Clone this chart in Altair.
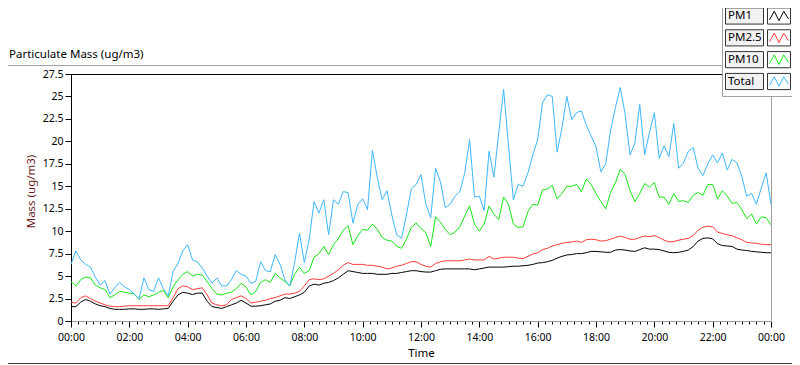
import altair as alt
import pandas as pd

# ---------------- data (10-minute samples) ----------------
step_minutes = 10
n_points = 145
hours = [i * step_minutes / 60 for i in range(n_points)]

series_names = ["PM1", "PM2.5", "PM10", "Total"]
series_colors = ["#000000", "#FF3B3B", "#17E617", "#3DB7FB"]

pm1 = [1.6, 1.6, 2.1, 2.4, 2.2, 1.9, 1.7, 1.6, 1.4, 1.3, 1.3, 1.3, 1.35, 1.35, 1.3, 1.3, 1.35, 1.35, 1.3, 1.35, 1.4, 2.2, 2.9, 3.2, 3.1,
       2.95, 3.1, 3.1, 2.2, 1.6, 1.5, 1.4, 1.6, 1.8, 2.0, 2.3, 2.0, 1.65, 1.65, 1.7, 1.8, 1.9, 2.2, 2.3, 2.6, 2.5, 2.7, 2.9, 3.2,
       3.9, 4.1, 4.0, 4.2, 4.3, 4.5, 4.8, 5.2, 5.6, 5.5, 5.4, 5.3, 5.3, 5.3, 5.2, 5.2, 5.2, 5.3, 5.3, 5.4, 5.5, 5.6, 5.6, 5.5,
       5.45, 5.45, 5.6, 5.75, 5.8, 5.8, 5.8, 5.8, 5.8, 5.8, 5.7, 5.8, 5.9, 6.0, 6.0, 6.0, 6.0, 6.05, 6.1, 6.1, 6.15, 6.2, 6.3, 6.45,
       6.5, 6.6, 6.75, 7.0, 7.2, 7.35, 7.4, 7.5, 7.5, 7.6, 7.75, 7.75, 7.7, 7.65, 7.65, 7.9, 7.95, 7.9, 7.8, 7.75, 7.95, 8.15, 8.0, 8.0,
       7.95, 7.8, 7.65, 7.6, 7.65, 7.75, 7.9, 8.3, 8.9, 9.2, 9.25, 9.15, 8.6, 8.4, 8.35, 8.3, 8.0, 7.9, 7.85, 7.75, 7.7, 7.65, 7.6, 7.6]

pm25 = [2.1, 2.0, 2.6, 2.8, 2.5, 2.2, 2.0, 1.8, 1.65, 1.6, 1.6, 1.65, 1.7, 1.7, 1.7, 1.7, 1.7, 1.7, 1.7, 1.7, 1.7, 2.6, 3.6, 3.9, 3.8,
        3.5, 3.6, 3.7, 2.9, 2.0, 1.8, 1.7, 1.8, 2.4, 2.6, 2.8, 2.5, 2.0, 2.1, 2.2, 2.3, 2.5, 2.6, 2.8, 3.0, 3.0, 3.1, 3.3, 3.9,
        4.6, 4.7, 4.6, 4.7, 5.0, 5.3, 5.7, 6.2, 6.5, 6.3, 6.3, 6.3, 6.2, 6.2, 6.1, 6.0, 5.8, 5.9, 6.1, 6.2, 6.4, 6.6, 6.6, 6.3,
        6.1, 6.0, 6.4, 6.6, 6.7, 6.7, 6.7, 6.7, 6.8, 6.9, 6.8, 6.8, 6.8, 7.2, 6.9, 7.0, 7.1, 7.1, 7.1, 7.0, 6.95, 7.2, 7.45, 7.6,
        7.95, 8.1, 8.35, 8.5, 8.65, 8.75, 8.8, 8.9, 8.75, 9.05, 9.1, 9.05, 8.9, 8.95, 9.1, 9.3, 9.45, 9.3, 9.1, 9.1, 9.3, 9.45, 9.4, 9.5,
        9.3, 9.0, 8.8, 8.85, 9.0, 9.1, 9.2, 9.5, 10.1, 10.45, 10.55, 10.5, 9.9, 9.75, 9.6, 9.5, 9.25, 9.05, 8.75, 8.7, 8.65, 8.55, 8.5, 8.5]

pm10 = [4.4, 3.9, 4.6, 4.9, 4.8, 4.0, 3.7, 3.5, 2.6, 2.9, 3.3, 3.2, 3.1, 3.0, 2.4, 2.9, 2.7, 2.9, 3.2, 3.4, 2.6, 3.8, 4.6, 5.2, 5.5,
        5.0, 5.2, 5.1, 4.4, 3.6, 3.0, 2.9, 3.1, 3.2, 3.6, 4.2, 3.8, 2.9, 3.3, 4.3, 4.6, 4.3, 5.3, 4.8, 4.4, 3.9, 5.2, 6.0, 5.3,
        5.6, 7.1, 7.5, 8.3, 7.4, 8.5, 9.2, 10.1, 10.6, 8.5, 9.5, 10.2, 10.1, 10.8, 10.2, 9.3, 9.0, 8.9, 8.3, 8.1, 9.1, 10.4, 10.9, 10.3,
        9.8, 8.3, 11.6, 11.0, 10.2, 9.6, 9.9, 10.5, 11.7, 12.8, 10.8, 10.0, 10.8, 12.8, 11.9, 11.3, 13.8, 13.0, 10.8, 10.4, 10.5, 12.2, 13.0, 12.9,
        14.6, 14.7, 15.1, 13.6, 14.2, 15.0, 15.0, 15.2, 14.4, 15.8, 15.2, 14.2, 13.3, 12.5, 14.3, 15.4, 16.9, 16.3, 14.5, 13.3, 14.2, 15.3, 14.9, 15.4,
        13.8, 13.8, 13.0, 14.2, 13.3, 13.4, 13.2, 14.0, 14.3, 14.0, 15.2, 15.2, 13.6, 14.5, 13.9, 13.1, 13.2, 12.4, 11.4, 11.9, 10.8, 11.6, 11.5, 10.7]

total = [6.3, 7.8, 6.8, 6.3, 6.0, 4.9, 4.0, 4.5, 3.0, 3.7, 4.3, 3.8, 3.5, 3.0, 2.5, 4.8, 3.5, 3.3, 4.8, 3.6, 2.8, 5.5, 6.4, 7.8, 8.5,
         6.8, 6.6, 5.9, 5.0, 4.2, 4.8, 3.9, 3.9, 4.6, 5.6, 5.2, 5.0, 4.2, 4.4, 6.6, 5.6, 5.5, 7.4, 6.3, 4.6, 3.9, 6.5, 9.8, 6.5,
         9.1, 13.3, 12.0, 13.5, 9.6, 13.5, 13.0, 14.4, 14.3, 10.9, 13.0, 13.6, 12.4, 19.0, 16.0, 13.5, 14.5, 11.8, 9.6, 9.2, 11.8, 14.7, 15.2, 16.3,
         13.0, 11.5, 17.0, 15.5, 12.6, 13.0, 13.9, 14.4, 16.5, 20.2, 13.8, 13.9, 12.3, 18.9, 16.0, 21.0, 25.8, 19.5, 13.5, 15.2, 15.0, 16.5, 18.5, 20.2,
         24.3, 25.2, 25.0, 18.8, 21.5, 25.0, 22.4, 23.2, 23.4, 21.8, 20.6, 19.4, 16.6, 17.5, 21.2, 23.8, 26.0, 23.0, 18.5, 19.8, 24.1, 18.5, 21.0, 23.2,
         18.1, 19.5, 18.3, 22.0, 17.0, 17.6, 18.9, 19.3, 17.0, 16.2, 17.5, 18.5, 17.6, 18.7, 16.8, 18.0, 17.6, 16.1, 13.9, 14.2, 13.0, 14.8, 16.5, 13.0]

x_tick_values = [q * 0.25 for q in range(97)]      # every 15 minutes, labels every 2 h
y_tick_values = [k * 2.5 for k in range(12)]

chart_title = "Particulate Mass (ug/m3)"
x_title = "Time"
y_title = "Mass (ug/m3)"

# ---------------- tables ----------------
long_df = pd.DataFrame({
    "hour": hours * len(series_names),
    "mass": pm1 + pm25 + pm10 + total,
    "series": [s for s in series_names for _ in range(n_points)],
})
legend_df = pd.DataFrame({"series": series_names, "idx": list(range(len(series_names)))})
one = pd.DataFrame({"k": [0]})

FONT = "Noto Sans"
W, H = 700, 247

color_scale = alt.Scale(domain=series_names, range=series_colors)

x_axis = alt.Axis(
    values=x_tick_values,
    labelExpr="datum.value % 2 === 0 ? ((datum.value % 24) < 10 ? '0' : '') + (datum.value % 24) + ':00' : ''",
    labelOverlap=False, labelFlush=False, grid=False,
    tickSize={"condition": {"test": "datum.value % 2 === 0", "value": 6}, "value": 3},
    tickColor="#000000", domainColor="#A0A0A0",
    labelFont=FONT, labelFontSize=10.5, labelColor="#000000", labelPadding=5,
    titleFont=FONT, titleFontSize=11.5, titleFontWeight="normal", titleColor="#000000",
    titleBaseline="middle", titleY=32,
)
y_axis = alt.Axis(
    values=y_tick_values, format=".1~f", grid=False,
    tickSize=6, tickColor="#000000", domainColor="#000000",
    labelFont=FONT, labelFontSize=10.5, labelColor="#000000", labelPadding=2,
    titleFont=FONT, titleFontSize=11.5, titleFontWeight="normal", titleColor="#6B1D1D",
    titleAngle=270, titleBaseline="middle", titleX=-40, titleY=117,
)

lines = alt.Chart(long_df).mark_line(strokeWidth=1, clip=True).encode(
    x=alt.X("hour:Q", scale=alt.Scale(domain=[0, 24], nice=False, zero=False), axis=x_axis, title=x_title),
    y=alt.Y("mass:Q", scale=alt.Scale(domain=[0, 27.5], nice=False), axis=y_axis, title=y_title),
    color=alt.Color("series:N", scale=color_scale, legend=None),
)

# plot-area frame (top black, right grey) and outer frame lines
top_border = alt.Chart(one).mark_rule(color="#000000", strokeWidth=1).encode(
    x=alt.value(0), x2=alt.value(W), y=alt.value(0.5))
right_border = alt.Chart(one).mark_rule(color="#A0A0A0", strokeWidth=1).encode(
    x=alt.value(W + 0.5), y=alt.value(0), y2=alt.value(H + 0.5))
frame_top = alt.Chart(one).mark_rule(color="#A0A0A0", strokeWidth=1).encode(
    x=alt.value(-63), x2=alt.value(651), y=alt.value(-8.5))
frame_bottom = alt.Chart(one).mark_rule(color="#3C3C3C", strokeWidth=1).encode(
    x=alt.value(-63), x2=alt.value(721), y=alt.value(289.5))

title_text = alt.Chart(one).mark_text(align="left", baseline="middle", font=FONT, fontSize=11.5, color="#000000").encode(
    x=alt.value(-62), y=alt.value(-19), text=alt.value(chart_title))

# legend panel
leg_scale = alt.Scale(domain=[0, 3], range=[-58, 7.5])
panel = alt.Chart(one).mark_rect(fill="#FFFFFF", stroke=None).encode(
    x=alt.value(651), x2=alt.value(721), y=alt.value(-66), y2=alt.value(22))
panel_left = alt.Chart(one).mark_rule(color="#A0A0A0", strokeWidth=1).encode(
    x=alt.value(651.5), y=alt.value(-66), y2=alt.value(22.5))
panel_bottom = alt.Chart(one).mark_rule(color="#A0A0A0", strokeWidth=1).encode(
    x=alt.value(651.5), x2=alt.value(721), y=alt.value(22.5))

label_boxes = alt.Chart(legend_df).transform_calculate(
    y0="datum.idx - 0.37", y1="datum.idx + 0.37"
).mark_rect(fill="#F2F2F2", stroke="#333333", strokeWidth=1).encode(
    x=alt.value(654.5), x2=alt.value(692.5),
    y=alt.Y("y0:Q", scale=leg_scale, axis=None), y2="y1:Q")
swatch_boxes = alt.Chart(legend_df).transform_calculate(
    y0="datum.idx - 0.37", y1="datum.idx + 0.37"
).mark_rect(fill="#FFFFFF", stroke="#333333", strokeWidth=1).encode(
    x=alt.value(696.5), x2=alt.value(719.5),
    y=alt.Y("y0:Q", scale=leg_scale, axis=None), y2="y1:Q")
label_text = alt.Chart(legend_df).mark_text(align="left", baseline="middle", font=FONT, fontSize=11.5, color="#000000").encode(
    x=alt.value(657), y=alt.Y("idx:Q", scale=leg_scale, axis=None), text="series:N")
zigzag = alt.Chart(legend_df).mark_point(
    shape="M-1,0.4L-0.5,-0.5L0,0.5L0.5,-0.5L1,0.3", filled=False, size=360, strokeWidth=1, opacity=1
).encode(
    x=alt.value(708), y=alt.Y("idx:Q", scale=leg_scale, axis=None),
    color=alt.Color("series:N", scale=color_scale, legend=None))

chart = alt.layer(
    lines, top_border, right_border, frame_top, frame_bottom, title_text,
    panel, panel_left, panel_bottom, label_boxes, swatch_boxes, label_text, zigzag,
).resolve_scale(y="independent").properties(
    width=W, height=H,
    padding={"left": 63, "top": 66, "right": 21, "bottom": 44},
    autosize=alt.AutoSizeParams(type="none"),
    background="#FFFFFF",
).configure(font=FONT).configure_view(stroke=None)

chart.save("out.html", embed_options={"renderer": "svg", "actions": False})
